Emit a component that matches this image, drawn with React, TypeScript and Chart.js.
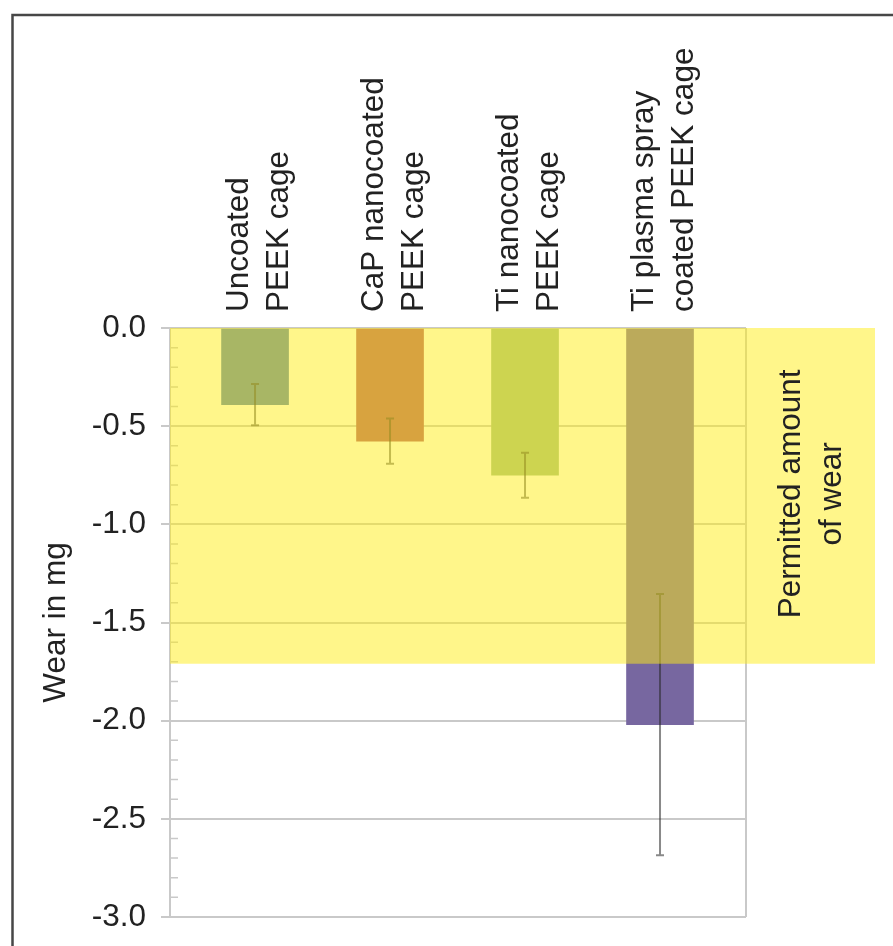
import React, { useEffect, useRef } from "react";
import { Chart, registerables } from "chart.js";

Chart.register(...registerables);

// ---- data ----
const categories: string[][] = [
  ["Uncoated", "PEEK cage"],
  ["CaP nanocoated", "PEEK cage"],
  ["Ti nanocoated", "PEEK cage"],
  ["Ti plasma spray", "coated PEEK cage"],
];
const wear = [-0.39, -0.576, -0.75, -2.02];
const wearError = [0.105, 0.115, 0.115, 0.665];
const barColors = ["#517fb5", "#b15969", "#9bbb8b", "#7767a0"];
const permittedLimit = -1.71;
const bandLabel = ["Permitted amount", "of wear"];
const yAxisTitle = "Wear in mg";
const yMin = -3;
const yMax = 0;
const yStep = 0.5;
const yMinorStep = 0.1;

// ---- style ----
const FONT = '"Liberation Sans", Arial, Helvetica, sans-serif';
const FS = 31.5;
const TEXT = "#222222";
const GRID = "#c9c9c9";
const OVERLAY = "rgba(255,237,21,0.5)";
const ERR = "rgba(40,40,40,0.55)";

const decorPlugin = {
  id: "decor",
  beforeDatasetsDraw(chart: any) {
    const { ctx, chartArea: a, scales } = chart;
    const y = scales.y;
    ctx.save();
    ctx.strokeStyle = GRID;
    ctx.lineWidth = 2;
    ctx.beginPath();
    ctx.moveTo(a.right, a.top);
    ctx.lineTo(a.right, a.bottom);
    ctx.stroke();
    ctx.lineWidth = 1.5;
    ctx.beginPath();
    const n = Math.round((yMax - yMin) / yMinorStep);
    const per = Math.round(yStep / yMinorStep);
    for (let i = 1; i < n; i++) {
      if (i % per === 0) continue;
      const py = y.getPixelForValue(yMax - i * yMinorStep);
      ctx.moveTo(a.left, py);
      ctx.lineTo(a.left + 8, py);
    }
    ctx.stroke();
    ctx.restore();
  },
  afterDatasetsDraw(chart: any) {
    const { ctx, chartArea: a, scales } = chart;
    const y = scales.y;
    const meta = chart.getDatasetMeta(0);
    ctx.save();
    // error bars
    ctx.strokeStyle = ERR;
    ctx.lineWidth = 2;
    meta.data.forEach((bar: any, i: number) => {
      const x = bar.x;
      const p1 = y.getPixelForValue(wear[i] + wearError[i]);
      const p2 = y.getPixelForValue(wear[i] - wearError[i]);
      ctx.beginPath();
      ctx.moveTo(x, p1);
      ctx.lineTo(x, p2);
      ctx.moveTo(x - 4, p1);
      ctx.lineTo(x + 4, p1);
      ctx.moveTo(x - 4, p2);
      ctx.lineTo(x + 4, p2);
      ctx.stroke();
    });
    // permitted band overlay
    const top = y.getPixelForValue(0);
    const bottom = y.getPixelForValue(permittedLimit);
    const bandRight = a.right + 129;
    ctx.fillStyle = OVERLAY;
    ctx.fillRect(a.left, top, bandRight - a.left, bottom - top);
    // band label
    ctx.fillStyle = TEXT;
    ctx.font = `${FS}px ${FONT}`;
    ctx.textAlign = "center";
    ctx.textBaseline = "alphabetic";
    const cx = 809;
    const cy = (top + bottom) / 2 - 2;
    ctx.translate(cx, cy);
    ctx.rotate(-Math.PI / 2);
    const lh = 41;
    bandLabel.forEach((t, i) => {
      ctx.fillText(t, 0, (i - (bandLabel.length - 1) / 2) * lh + 11);
    });
    ctx.restore();
  },
  afterDraw(chart: any) {
    const { ctx, chartArea: a, scales } = chart;
    const x = scales.x;
    ctx.save();
    ctx.fillStyle = TEXT;
    ctx.font = `${FS}px ${FONT}`;
    ctx.textAlign = "left";
    ctx.textBaseline = "alphabetic";
    categories.forEach((lines, i) => {
      const px = x.getPixelForValue(i) + 2;
      ctx.save();
      ctx.translate(px, a.top - 16);
      ctx.rotate(-Math.PI / 2);
      lines.forEach((t, j) => {
        ctx.fillText(t, 0, (j - (lines.length - 1) / 2) * 40 + 11);
      });
      ctx.restore();
    });
    // outer frame
    ctx.strokeStyle = "#474747";
    ctx.lineWidth = 2.5;
    ctx.beginPath();
    ctx.moveTo(12.5, chart.height);
    ctx.lineTo(12.5, 15);
    ctx.lineTo(chart.width, 15);
    ctx.stroke();
    ctx.restore();
  },
};

export default function App() {
  const ref = useRef<HTMLCanvasElement | null>(null);
  useEffect(() => {
    if (!ref.current) return;
    Chart.defaults.color = TEXT;
    Chart.defaults.font.family = FONT;
    const chart = new Chart(ref.current, {
      type: "bar",
      data: {
        datasets: [
          {
            data: wear.map((v, i) => ({ x: i, y: v })),
            backgroundColor: barColors,
            borderWidth: 0,
            barThickness: 67,
          },
        ],
      },
      options: {
        animation: false,
        responsive: false,
        events: [],
        layout: { padding: { left: 0, top: 328, right: 147, bottom: 29 } },
        plugins: { legend: { display: false }, tooltip: { enabled: false } },
        scales: {
          x: {
            type: "linear",
            display: false,
            offset: false,
            min: -0.63,
            max: 3.637,
            bounds: "data",
          },
          y: {
            min: yMin,
            max: yMax,
            afterFit: (s: any) => {
              s.width = 170;
              s.paddingTop = 0;
              s.paddingBottom = 0;
            },
            ticks: {
              stepSize: yStep,
              padding: 15,
              color: TEXT,
              font: { size: FS, family: FONT },
              callback: (v: any) => Number(v).toFixed(1),
            },
            grid: {
              color: GRID,
              lineWidth: 2,
              tickLength: 9,
              drawTicks: true,
            },
            border: { display: true, color: GRID, width: 2 },
            title: {
              display: true,
              text: yAxisTitle,
              color: TEXT,
              font: { size: FS, family: FONT },
              padding: { top: 37, bottom: 0 },
            },
          },
        },
      },
      plugins: [decorPlugin],
    });
    return () => chart.destroy();
  }, []);
  return (
    <div style={{ position: "absolute", left: 0, top: 0, width: 893, height: 946, background: "#fff" }}>
      <canvas ref={ref} width={893} height={946} style={{ display: "block" }} />
    </div>
  );
}
